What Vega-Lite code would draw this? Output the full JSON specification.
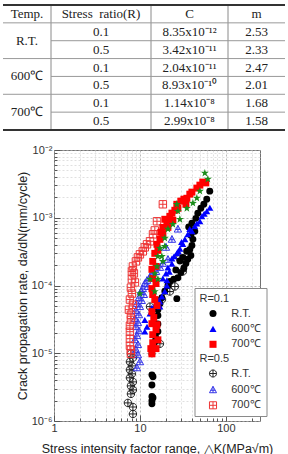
{
  "$schema": "https://vega.github.io/schema/vega-lite/v6.json",
  "padding": {"left": 2, "top": 4, "right": 0, "bottom": 0},
  "config": {"view": {"stroke": null}},
  "spacing": 12,
  "datasets": {
    "cells": [
      {"row": 0, "col": 0, "txt": "Temp."}, {"row": 0, "col": 1, "txt": "Stress\u00a0 ratio(R)"}, {"row": 0, "col": 2, "txt": "C"}, {"row": 0, "col": 3, "txt": "m"},
      {"row": 1, "col": 0, "txt": "R.T."}, {"row": 1, "col": 1, "txt": "0.1"}, {"row": 1, "col": 2, "txt": "8.35x10⁻¹²"}, {"row": 1, "col": 3, "txt": "2.53"},
      {"row": 2, "col": 1, "txt": "0.5"}, {"row": 2, "col": 2, "txt": "3.42x10⁻¹¹"}, {"row": 2, "col": 3, "txt": "2.33"},
      {"row": 3, "col": 0, "txt": "600℃"}, {"row": 3, "col": 1, "txt": "0.1"}, {"row": 3, "col": 2, "txt": "2.04x10⁻¹¹"}, {"row": 3, "col": 3, "txt": "2.47"},
      {"row": 4, "col": 1, "txt": "0.5"}, {"row": 4, "col": 2, "txt": "8.93x10⁻¹⁰"}, {"row": 4, "col": 3, "txt": "2.01"},
      {"row": 5, "col": 0, "txt": "700℃"}, {"row": 5, "col": 1, "txt": "0.1"}, {"row": 5, "col": 2, "txt": "1.14x10⁻⁸"}, {"row": 5, "col": 3, "txt": "1.68"},
      {"row": 6, "col": 1, "txt": "0.5"}, {"row": 6, "col": 2, "txt": "2.99x10⁻⁸"}, {"row": 6, "col": 3, "txt": "1.58"}
    ],
    "pts": [
      {"g":"B","t":"R.T.","dk":7.86,"r":9.8e-6},{"g":"B","t":"R.T.","dk":8.29,"r":8.6e-6},{"g":"B","t":"R.T.","dk":7.65,"r":7.48e-6},{"g":"B","t":"R.T.","dk":8.07,"r":6.5e-6},{"g":"B","t":"R.T.","dk":7.65,"r":5.7e-6},{"g":"B","t":"R.T.","dk":8.07,"r":4.97e-6},{"g":"B","t":"R.T.","dk":7.65,"r":4.34e-6},{"g":"B","t":"R.T.","dk":8.29,"r":3.78e-6},{"g":"B","t":"R.T.","dk":7.86,"r":3.3e-6},{"g":"B","t":"R.T.","dk":8.29,"r":2.88e-6},{"g":"B","t":"R.T.","dk":7.86,"r":2.51e-6},{"g":"B","t":"R.T.","dk":7.25,"r":1.85e-6},{"g":"B","t":"R.T.","dk":8.29,"r":1.61e-6},{"g":"B","t":"R.T.","dk":8.29,"r":1.27e-6},{"g":"B","t":"R.T.","dk":17.1,"r":1.38e-5},{"g":"B","t":"R.T.","dk":13.1,"r":4.88e-5},{"g":"B","t":"R.T.","dk":18.0,"r":6.2e-5},{"g":"B","t":"R.T.","dk":22.3,"r":8.15e-5},{"g":"B","t":"R.T.","dk":25.5,"r":9.66e-5},{"g":"B","t":"R.T.","dk":29.2,"r":2.51e-4},{"g":"B","t":"R.T.","dk":31.6,"r":1.61e-4},
      {"g":"B","t":"600℃","dk":21.2,"r":2.43e-4},{"g":"B","t":"600℃","dk":18.5,"r":2.12e-4},{"g":"B","t":"600℃","dk":17.1,"r":1.85e-4},{"g":"B","t":"600℃","dk":15.4,"r":1.61e-4},{"g":"B","t":"600℃","dk":13.8,"r":1.51e-4},{"g":"B","t":"600℃","dk":13.1,"r":1.31e-4},{"g":"B","t":"600℃","dk":12.1,"r":1.19e-4},{"g":"B","t":"600℃","dk":11.4,"r":1.07e-4},{"g":"B","t":"600℃","dk":12.4,"r":9.66e-5},{"g":"B","t":"600℃","dk":10.8,"r":9.0e-5},{"g":"B","t":"600℃","dk":10.3,"r":8.15e-5},{"g":"B","t":"600℃","dk":11.1,"r":7.36e-5},{"g":"B","t":"600℃","dk":9.73,"r":6.6e-5},{"g":"B","t":"600℃","dk":10.5,"r":6.0e-5},{"g":"B","t":"600℃","dk":9.23,"r":5.4e-5},{"g":"B","t":"600℃","dk":10.0,"r":4.88e-5},{"g":"B","t":"600℃","dk":8.98,"r":4.26e-5},{"g":"B","t":"600℃","dk":9.73,"r":3.7e-5},{"g":"B","t":"600℃","dk":8.75,"r":3.25e-5},{"g":"B","t":"600℃","dk":9.48,"r":2.83e-5},{"g":"B","t":"600℃","dk":8.98,"r":2.47e-5},{"g":"B","t":"600℃","dk":9.73,"r":2.15e-5},{"g":"B","t":"600℃","dk":9.23,"r":1.82e-5},{"g":"B","t":"600℃","dk":8.75,"r":1.58e-5},{"g":"B","t":"600℃","dk":9.48,"r":1.34e-5},{"g":"B","t":"600℃","dk":8.98,"r":1.13e-5},{"g":"B","t":"600℃","dk":9.48,"r":9.5e-6},{"g":"B","t":"600℃","dk":10.0,"r":7.48e-6},{"g":"B","t":"600℃","dk":9.23,"r":6.1e-6},{"g":"B","t":"600℃","dk":27.7,"r":6.8e-4},{"g":"B","t":"600℃","dk":23.6,"r":4.8e-4},{"g":"B","t":"600℃","dk":20.1,"r":3.66e-4},
      {"g":"B","t":"700℃","dk":18.5,"r":1.58e-3},{"g":"B","t":"700℃","dk":15.8,"r":8.87e-4},{"g":"B","t":"700℃","dk":14.9,"r":6.5e-4},{"g":"B","t":"700℃","dk":14.2,"r":5.7e-4},{"g":"B","t":"700℃","dk":13.1,"r":4.49e-4},{"g":"B","t":"700℃","dk":12.1,"r":4.05e-4},{"g":"B","t":"700℃","dk":11.4,"r":3.66e-4},{"g":"B","t":"700℃","dk":10.8,"r":3.19e-4},{"g":"B","t":"700℃","dk":10.0,"r":2.88e-4},{"g":"B","t":"700℃","dk":9.48,"r":2.6e-4},{"g":"B","t":"700℃","dk":8.98,"r":2.27e-4},{"g":"B","t":"700℃","dk":8.29,"r":1.91e-4},{"g":"B","t":"700℃","dk":8.07,"r":1.61e-4},{"g":"B","t":"700℃","dk":8.51,"r":1.51e-4},{"g":"B","t":"700℃","dk":8.07,"r":1.24e-4},{"g":"B","t":"700℃","dk":8.75,"r":1.11e-4},{"g":"B","t":"700℃","dk":7.86,"r":9.3e-5},{"g":"B","t":"700℃","dk":8.07,"r":7.6e-5},{"g":"B","t":"700℃","dk":7.65,"r":6.2e-5},{"g":"B","t":"700℃","dk":8.29,"r":5.2e-5},{"g":"B","t":"700℃","dk":7.45,"r":4.4e-5},{"g":"B","t":"700℃","dk":7.86,"r":3.7e-5},{"g":"B","t":"700℃","dk":7.86,"r":3.1e-5},{"g":"B","t":"700℃","dk":7.65,"r":2.55e-5},{"g":"B","t":"700℃","dk":7.65,"r":2.08e-5},{"g":"B","t":"700℃","dk":7.65,"r":1.64e-5},{"g":"B","t":"700℃","dk":7.65,"r":1.29e-5},{"g":"B","t":"700℃","dk":7.86,"r":1.13e-5},{"g":"B","t":"700℃","dk":7.86,"r":9.8e-6},
      {"g":"A","t":"R.T.","dk":13.8,"r":1.8e-6},{"g":"A","t":"R.T.","dk":13.8,"r":2.0e-6},{"g":"A","t":"R.T.","dk":14.2,"r":2.2e-6},{"g":"A","t":"R.T.","dk":13.8,"r":2.3e-6},{"g":"A","t":"R.T.","dk":13.8,"r":3.4e-6},{"g":"A","t":"R.T.","dk":13.8,"r":4.8e-6},{"g":"A","t":"R.T.","dk":14.2,"r":4.5e-6},{"g":"A","t":"R.T.","dk":13.8,"r":9.8e-6},{"g":"A","t":"R.T.","dk":14.8,"r":1.45e-5},{"g":"A","t":"R.T.","dk":15.2,"r":1.75e-5},{"g":"A","t":"R.T.","dk":16.2,"r":2.1e-5},{"g":"A","t":"R.T.","dk":16.2,"r":2.7e-5},{"g":"A","t":"R.T.","dk":16.2,"r":3.6e-5},{"g":"A","t":"R.T.","dk":16.2,"r":4.4e-5},{"g":"A","t":"R.T.","dk":17.1,"r":5.4e-5},{"g":"A","t":"R.T.","dk":18.0,"r":6.6e-5},{"g":"A","t":"R.T.","dk":26.9,"r":6.4e-5},{"g":"A","t":"R.T.","dk":19.5,"r":8.2e-5},{"g":"A","t":"R.T.","dk":21.2,"r":1.0e-4},{"g":"A","t":"R.T.","dk":22.3,"r":1.15e-4},{"g":"A","t":"R.T.","dk":24.8,"r":1.24e-4},{"g":"A","t":"R.T.","dk":27.7,"r":1.3e-4},{"g":"A","t":"R.T.","dk":26.2,"r":1.7e-4},{"g":"A","t":"R.T.","dk":30.0,"r":1.55e-4},{"g":"A","t":"R.T.","dk":32.5,"r":1.82e-4},{"g":"A","t":"R.T.","dk":34.3,"r":2.12e-4},{"g":"A","t":"R.T.","dk":29.2,"r":2.3e-4},{"g":"A","t":"R.T.","dk":31.7,"r":2.6e-4},{"g":"A","t":"R.T.","dk":36.1,"r":2.45e-4},{"g":"A","t":"R.T.","dk":39.2,"r":2.78e-4},{"g":"A","t":"R.T.","dk":35.0,"r":3.2e-4},{"g":"A","t":"R.T.","dk":38.1,"r":3.4e-4},{"g":"A","t":"R.T.","dk":40.3,"r":3.9e-4},{"g":"A","t":"R.T.","dk":41.4,"r":4.8e-4},{"g":"A","t":"R.T.","dk":39.2,"r":5.5e-4},{"g":"A","t":"R.T.","dk":43.6,"r":6.3e-4},{"g":"A","t":"R.T.","dk":41.4,"r":6.6e-4},{"g":"A","t":"R.T.","dk":37.0,"r":7.3e-4},{"g":"A","t":"R.T.","dk":40.3,"r":8.3e-4},{"g":"A","t":"R.T.","dk":44.8,"r":9.8e-4},{"g":"A","t":"R.T.","dk":47.2,"r":1.17e-3},{"g":"A","t":"R.T.","dk":51.2,"r":1.38e-3},{"g":"A","t":"R.T.","dk":55.5,"r":1.58e-3},{"g":"A","t":"R.T.","dk":60.0,"r":1.88e-3},{"g":"A","t":"R.T.","dk":65.0,"r":2.47e-3},
      {"g":"A","t":"600℃","dk":11.4,"r":2.1e-5},{"g":"A","t":"600℃","dk":12.1,"r":2.47e-5},{"g":"A","t":"600℃","dk":11.4,"r":3.1e-5},{"g":"A","t":"600℃","dk":13.1,"r":3.85e-5},{"g":"A","t":"600℃","dk":13.8,"r":4.7e-5},{"g":"A","t":"600℃","dk":17.1,"r":4.9e-5},{"g":"A","t":"600℃","dk":15.4,"r":5.4e-5},{"g":"A","t":"600℃","dk":17.1,"r":5.8e-5},{"g":"A","t":"600℃","dk":16.0,"r":6.2e-5},{"g":"A","t":"600℃","dk":18.0,"r":6.9e-5},{"g":"A","t":"600℃","dk":19.5,"r":8.2e-5},{"g":"A","t":"600℃","dk":20.6,"r":1.0e-4},{"g":"A","t":"600℃","dk":20.6,"r":1.2e-4},{"g":"A","t":"600℃","dk":18.5,"r":1.27e-4},{"g":"A","t":"600℃","dk":20.1,"r":1.5e-4},{"g":"A","t":"600℃","dk":22.0,"r":1.6e-4},{"g":"A","t":"600℃","dk":21.2,"r":1.85e-4},{"g":"A","t":"600℃","dk":23.6,"r":2.1e-4},{"g":"A","t":"600℃","dk":23.6,"r":2.5e-4},{"g":"A","t":"600℃","dk":25.0,"r":2.7e-4},{"g":"A","t":"600℃","dk":26.9,"r":3.0e-4},{"g":"A","t":"600℃","dk":28.0,"r":3.2e-4},{"g":"A","t":"600℃","dk":29.2,"r":3.5e-4},{"g":"A","t":"600℃","dk":31.6,"r":4.1e-4},{"g":"A","t":"600℃","dk":30.5,"r":4.4e-4},{"g":"A","t":"600℃","dk":33.4,"r":4.8e-4},{"g":"A","t":"600℃","dk":36.1,"r":5.7e-4},{"g":"A","t":"600℃","dk":40.3,"r":6.3e-4},{"g":"A","t":"600℃","dk":38.0,"r":6.8e-4},{"g":"A","t":"600℃","dk":43.6,"r":7.5e-4},{"g":"A","t":"600℃","dk":46.0,"r":8.2e-4},{"g":"A","t":"600℃","dk":49.9,"r":8.9e-4},{"g":"A","t":"600℃","dk":52.6,"r":1.05e-3},{"g":"A","t":"600℃","dk":56.0,"r":1.15e-3},{"g":"A","t":"600℃","dk":60.1,"r":1.25e-3},{"g":"A","t":"600℃","dk":65.2,"r":1.4e-3},
      {"g":"A","t":"700℃","dk":13.8,"r":9.8e-6},{"g":"A","t":"700℃","dk":13.4,"r":1.17e-5},{"g":"A","t":"700℃","dk":15.4,"r":1.17e-5},{"g":"A","t":"700℃","dk":14.1,"r":1.43e-5},{"g":"A","t":"700℃","dk":16.2,"r":1.58e-5},{"g":"A","t":"700℃","dk":14.1,"r":1.88e-5},{"g":"A","t":"700℃","dk":15.4,"r":2.23e-5},{"g":"A","t":"700℃","dk":13.8,"r":2.73e-5},{"g":"A","t":"700℃","dk":15.8,"r":2.64e-5},{"g":"A","t":"700℃","dk":14.5,"r":3.36e-5},{"g":"A","t":"700℃","dk":13.8,"r":4.12e-5},{"g":"A","t":"700℃","dk":15.8,"r":5.06e-5},{"g":"A","t":"700℃","dk":14.9,"r":6.2e-5},{"g":"A","t":"700℃","dk":14.1,"r":7.36e-5},{"g":"A","t":"700℃","dk":13.8,"r":9.0e-5},{"g":"A","t":"700℃","dk":15.4,"r":1.07e-4},{"g":"A","t":"700℃","dk":14.1,"r":1.27e-4},{"g":"A","t":"700℃","dk":13.8,"r":1.73e-4},{"g":"A","t":"700℃","dk":15.4,"r":1.91e-4},{"g":"A","t":"700℃","dk":14.1,"r":2.27e-4},{"g":"A","t":"700℃","dk":14.9,"r":2.98e-4},{"g":"A","t":"700℃","dk":16.2,"r":3.3e-4},{"g":"A","t":"700℃","dk":15.8,"r":4.05e-4},{"g":"A","t":"700℃","dk":17.1,"r":4.8e-4},{"g":"A","t":"700℃","dk":18.5,"r":5.7e-4},{"g":"A","t":"700℃","dk":17.5,"r":6.1e-4},{"g":"A","t":"700℃","dk":18.5,"r":7.2e-4},{"g":"A","t":"700℃","dk":21.2,"r":7.2e-4},{"g":"A","t":"700℃","dk":20.6,"r":8.6e-4},{"g":"A","t":"700℃","dk":24.2,"r":9.2e-4},{"g":"A","t":"700℃","dk":19.5,"r":9.5e-4},{"g":"A","t":"700℃","dk":22.3,"r":1.05e-3},{"g":"A","t":"700℃","dk":23.6,"r":1.17e-3},{"g":"A","t":"700℃","dk":25.5,"r":1.29e-3},{"g":"A","t":"700℃","dk":27.7,"r":1.38e-3},{"g":"A","t":"700℃","dk":26.9,"r":1.58e-3},{"g":"A","t":"700℃","dk":34.3,"r":1.58e-3},{"g":"A","t":"700℃","dk":29.9,"r":1.76e-3},{"g":"A","t":"700℃","dk":32.5,"r":1.88e-3},{"g":"A","t":"700℃","dk":35.2,"r":1.94e-3},{"g":"A","t":"700℃","dk":38.1,"r":2.23e-3},{"g":"A","t":"700℃","dk":40.3,"r":2.39e-3},{"g":"A","t":"700℃","dk":46.0,"r":2.74e-3},{"g":"A","t":"700℃","dk":49.9,"r":3.03e-3},{"g":"A","t":"700℃","dk":53.9,"r":3.36e-3},{"g":"A","t":"700℃","dk":58.5,"r":3.27e-3},
      {"g":"G","t":"x","dk":57,"r":4.56e-3},{"g":"G","t":"x","dk":61.8,"r":3.72e-3},{"g":"G","t":"x","dk":49.9,"r":2.47e-3},{"g":"G","t":"x","dk":46.0,"r":1.95e-3},{"g":"G","t":"x","dk":41.4,"r":1.64e-3},{"g":"G","t":"x","dk":35.2,"r":1.38e-3},{"g":"G","t":"x","dk":26.9,"r":1.58e-3},{"g":"G","t":"x","dk":27.7,"r":1.25e-3},{"g":"G","t":"x","dk":29.2,"r":9.5e-4},{"g":"G","t":"x","dk":24.2,"r":8.0e-4},{"g":"G","t":"x","dk":21.2,"r":6.8e-4},{"g":"G","t":"x","dk":19.5,"r":5.0e-4},{"g":"G","t":"x","dk":19.5,"r":3.78e-4},{"g":"G","t":"x","dk":17.1,"r":3.55e-4},{"g":"G","t":"x","dk":18.0,"r":2.69e-4},{"g":"G","t":"x","dk":16.2,"r":2.69e-4},{"g":"G","t":"x","dk":18.5,"r":2.27e-4},{"g":"G","t":"x","dk":15.8,"r":1.91e-4},{"g":"G","t":"x","dk":14.9,"r":1.5e-4},{"g":"G","t":"x","dk":16.2,"r":1.24e-4},{"g":"G","t":"x","dk":13.1,"r":1.24e-4},{"g":"G","t":"x","dk":14.9,"r":8.15e-5},{"g":"G","t":"x","dk":10.0,"r":7.6e-5}
    ]
  },
  "vconcat": [
    {
      "width": 231, "height": 125,
      "data": {"name": "cells"},
      "layer": [
        {"transform": [{"filter": "datum.row == 0 && datum.col >= 1"}],
         "mark": {"type": "rule", "color": "#8a8a8a", "strokeWidth": 1},
         "encoding": {"x": {"field": "col", "type": "quantitative", "scale": {"domain": [0, 1, 2, 3, 4], "range": [-51, -3, 97, 174, 231]}, "axis": null}}},
        {"transform": [{"filter": "datum.col == 0 && (datum.row == 1 || datum.row == 3 || datum.row == 5)"}],
         "mark": {"type": "rule", "color": "#999999", "strokeWidth": 1},
         "encoding": {"y": {"field": "row", "type": "ordinal", "bandPosition": 0, "scale": {"domain": [0, 1, 2, 3, 4, 5, 6], "paddingInner": 0, "paddingOuter": 0}, "axis": null},
           "x": {"datum": 0, "type": "quantitative", "scale": {"domain": [0, 1, 2, 3, 4], "range": [-51, -3, 97, 174, 231]}, "axis": null},
           "x2": {"datum": 4}}},
        {"transform": [{"filter": "datum.col == 1 && (datum.row == 2 || datum.row == 4 || datum.row == 6)"}],
         "mark": {"type": "rule", "color": "#999999", "strokeWidth": 1},
         "encoding": {"y": {"field": "row", "type": "ordinal", "bandPosition": 0},
           "x": {"datum": 1, "type": "quantitative", "scale": {"domain": [0, 1, 2, 3, 4], "range": [-51, -3, 97, 174, 231]}, "axis": null},
           "x2": {"datum": 4}}},
        {"transform": [{"filter": "datum.col == 0 && datum.row == 0"}],
         "mark": {"type": "rule", "color": "#333333", "strokeWidth": 2},
         "encoding": {"y": {"field": "row", "type": "ordinal", "bandPosition": 0},
           "x": {"datum": 0, "type": "quantitative", "scale": {"domain": [0, 1, 2, 3, 4], "range": [-51, -3, 97, 174, 231]}, "axis": null},
           "x2": {"datum": 4}}},
        {"transform": [{"filter": "datum.col == 1 && datum.row == 6"}],
         "mark": {"type": "rule", "color": "#333333", "strokeWidth": 2},
         "encoding": {"y": {"field": "row", "type": "ordinal", "bandPosition": 1},
           "x": {"datum": 0, "type": "quantitative", "scale": {"domain": [0, 1, 2, 3, 4], "range": [-51, -3, 97, 174, 231]}, "axis": null},
           "x2": {"datum": 4}}},
        {"transform": [{"filter": "!(datum.col == 0 && datum.row > 0)"}],
         "mark": {"type": "text", "font": "Liberation Serif", "fontSize": 13, "color": "#222222"},
         "encoding": {"x": {"field": "col", "type": "quantitative", "scale": {"domain": [0, 1, 2, 3], "range": [-27, 47, 135.5, 202.5]}, "axis": null},
           "y": {"field": "row", "type": "ordinal", "bandPosition": 0.5}, "text": {"field": "txt"}}},
        {"transform": [{"filter": "datum.col == 0 && datum.row > 0"}],
         "mark": {"type": "text", "font": "Liberation Serif", "fontSize": 13, "color": "#222222"},
         "encoding": {"x": {"field": "col", "type": "quantitative", "scale": {"domain": [0, 1, 2, 3], "range": [-27, 47, 135.5, 202.5]}, "axis": null},
           "y": {"field": "row", "type": "ordinal", "bandPosition": 1}, "text": {"field": "txt"}}}
      ],
      "resolve": {"scale": {"x": "independent"}}
    },
    {
      "width": 206, "height": 271,
      "view": {"stroke": "#707070", "strokeWidth": 1},
      "data": {"name": "pts"},
      "encoding": {
        "x": {"field": "dk", "type": "quantitative",
          "scale": {"type": "log", "domain": [1, 250], "nice": false},
          "title": "Stress intensity factor range, △K(MPa√m)",
          "axis": {
            "values": [1,2,3,4,5,6,7,8,9,10,20,30,40,50,60,70,80,90,100,200],
            "labelExpr": "datum.value == 1 ? '1' : datum.value == 10 ? '10' : datum.value == 100 ? '100' : ''",
            "labelOverlap": false, "labelFlush": false, "labelFont": "Liberation Sans", "labelFontSize": 11, "labelColor": "#333333", "labelPadding": 7,
            "grid": true, "gridColor": {"condition": {"test": "datum.value == 1 || datum.value == 10 || datum.value == 100", "value": "#a8a8a8"}, "value": "#d8d8d8"}, "gridDash": [2, 2], "gridWidth": 0.8,
            "domain": false, "tickColor": "#555555",
            "tickSize": {"condition": {"test": "datum.value == 1 || datum.value == 10 || datum.value == 100", "value": -6}, "value": -3},
            "titleFont": "Liberation Sans", "titleFontSize": 12.5, "titleFontWeight": "normal", "titleColor": "#222222", "titlePadding": 6
          }
        },
        "y": {"field": "r", "type": "quantitative",
          "scale": {"type": "log", "domain": [0.000001, 0.01], "nice": false},
          "title": "Crack propagation rate, da/dN(mm/cycle)",
          "axis": {
            "values": [0.000001,0.000002,0.000003,0.000004,0.000005,0.000006,0.000007,0.000008,0.000009,0.00001,0.00002,0.00003,0.00004,0.00005,0.00006,0.00007,0.00008,0.00009,0.0001,0.0002,0.0003,0.0004,0.0005,0.0006,0.0007,0.0008,0.0009,0.001,0.002,0.003,0.004,0.005,0.006,0.007,0.008,0.009,0.01],
            "labelExpr": "datum.value == 0.000001 ? '10⁻⁶' : datum.value == 0.00001 ? '10⁻⁵' : datum.value == 0.0001 ? '10⁻⁴' : datum.value == 0.001 ? '10⁻³' : datum.value == 0.01 ? '10⁻²' : ''",
            "labelOverlap": false, "labelFlush": false, "labelFont": "Liberation Sans", "labelFontSize": 11, "labelColor": "#333333", "labelPadding": 8,
            "grid": true, "gridColor": {"condition": {"test": "datum.value == 0.000001 || datum.value == 0.00001 || datum.value == 0.0001 || datum.value == 0.001 || datum.value == 0.01", "value": "#a8a8a8"}, "value": "#d8d8d8"}, "gridDash": [2, 2], "gridWidth": 0.8,
            "domain": false, "tickColor": "#555555",
            "tickSize": {"condition": {"test": "datum.value == 0.000001 || datum.value == 0.00001 || datum.value == 0.0001 || datum.value == 0.001 || datum.value == 0.01", "value": -6}, "value": -3},
            "titleFont": "Liberation Sans", "titleFontSize": 12.5, "titleFontWeight": "normal", "titleColor": "#222222", "titlePadding": 2
          }
        }
      },
      "layer": [
        {
          "transform": [{"filter": "datum.g == 'B'"}],
          "mark": {"type": "point", "filled": false, "size": 55, "strokeWidth": 1, "opacity": 1},
          "encoding": {
            "color": {"field": "t", "type": "nominal",
              "scale": {"domain": ["R.T.", "600℃", "700℃"], "range": ["#222222", "#3535e8", "#ee3535"]},
              "legend": {"title": "R=0.5", "orient": "none", "legendX": 140.5, "legendY": 198, "zindex": 2, "padding": 5, "strokeColor": null, "fillColor": null, "symbolSize": 50, "symbolStrokeWidth": 1, "symbolOffset": 8, "labelOffset": 12.7, "rowPadding": 3.4, "titlePadding": 4, "titleFont": "Liberation Sans", "titleFontSize": 11, "titleFontWeight": "normal", "titleColor": "#333333", "labelFont": "Liberation Sans", "labelFontSize": 11, "labelColor": "#333333"}},
            "shape": {"field": "t", "type": "nominal",
              "scale": {"domain": ["R.T.", "600℃", "700℃"], "range": ["M-1,0A1,1,0,1,0,1,0A1,1,0,1,0,-1,0Z M-1,0L1,0 M0,-1L0,1", "M0,-1L1,0.8L-1,0.8Z M-0.65,0.1L0.65,0.1 M0,-1L0,0.8", "M-1,-1L1,-1L1,1L-1,1Z M-1,0L1,0 M0,-1L0,1"]},
              "legend": {"title": "R=0.5", "orient": "none", "legendX": 140.5, "legendY": 198, "zindex": 2, "padding": 5, "strokeColor": null, "fillColor": null, "symbolSize": 50, "symbolStrokeWidth": 1, "symbolOffset": 8, "labelOffset": 12.7, "rowPadding": 3.4, "titlePadding": 4, "titleFont": "Liberation Sans", "titleFontSize": 11, "titleFontWeight": "normal", "titleColor": "#333333", "labelFont": "Liberation Sans", "labelFontSize": 11, "labelColor": "#333333"}}
          }
        },
        {
          "transform": [{"filter": "datum.g == 'A'"}],
          "mark": {"type": "point", "filled": true, "size": 48, "opacity": 1},
          "encoding": {
            "color": {"field": "t", "type": "nominal",
              "scale": {"domain": ["R.T.", "600℃", "700℃", "b1", "b2", "b3", "b4"], "range": ["#000000", "#0000ff", "#ff0000", "transparent", "transparent", "transparent", "transparent"]},
              "legend": {"title": "R=0.1", "orient": "none", "legendX": 140.5, "legendY": 138, "zindex": 1, "padding": 5, "strokeColor": "#8a8a8a", "fillColor": "white", "symbolSize": 50, "symbolOffset": 8, "labelOffset": 12.7, "rowPadding": 3.4, "titlePadding": 4, "labelExpr": "datum.label[0] == 'b' ? '' : datum.label", "titleFont": "Liberation Sans", "titleFontSize": 11, "titleFontWeight": "normal", "titleColor": "#333333", "labelFont": "Liberation Sans", "labelFontSize": 11, "labelColor": "#333333"}},
            "shape": {"field": "t", "type": "nominal",
              "scale": {"domain": ["R.T.", "600℃", "700℃", "b1", "b2", "b3", "b4"], "range": ["circle", "triangle-up", "square", "circle", "circle", "circle", "circle"]},
              "legend": {"title": "R=0.1", "orient": "none", "legendX": 140.5, "legendY": 138, "zindex": 1, "padding": 5, "strokeColor": "#8a8a8a", "fillColor": "white", "symbolSize": 50, "symbolOffset": 8, "labelOffset": 12.7, "rowPadding": 3.4, "titlePadding": 4, "labelExpr": "datum.label[0] == 'b' ? '' : datum.label", "titleFont": "Liberation Sans", "titleFontSize": 11, "titleFontWeight": "normal", "titleColor": "#333333", "labelFont": "Liberation Sans", "labelFontSize": 11, "labelColor": "#333333"}}
          }
        },
        {
          "transform": [{"filter": "datum.g == 'G'"}],
          "mark": {"type": "point", "filled": true, "size": 70, "opacity": 1, "color": "#1b8c1b", "shape": "M0,-1L0.235,-0.324L0.951,-0.309L0.38,0.124L0.588,0.809L0,0.4L-0.588,0.809L-0.38,0.124L-0.951,-0.309L-0.235,-0.324Z"},
          "encoding": {}
        }
      ],
      "resolve": {"scale": {"color": "independent", "shape": "independent"}}
    }
  ]
}
